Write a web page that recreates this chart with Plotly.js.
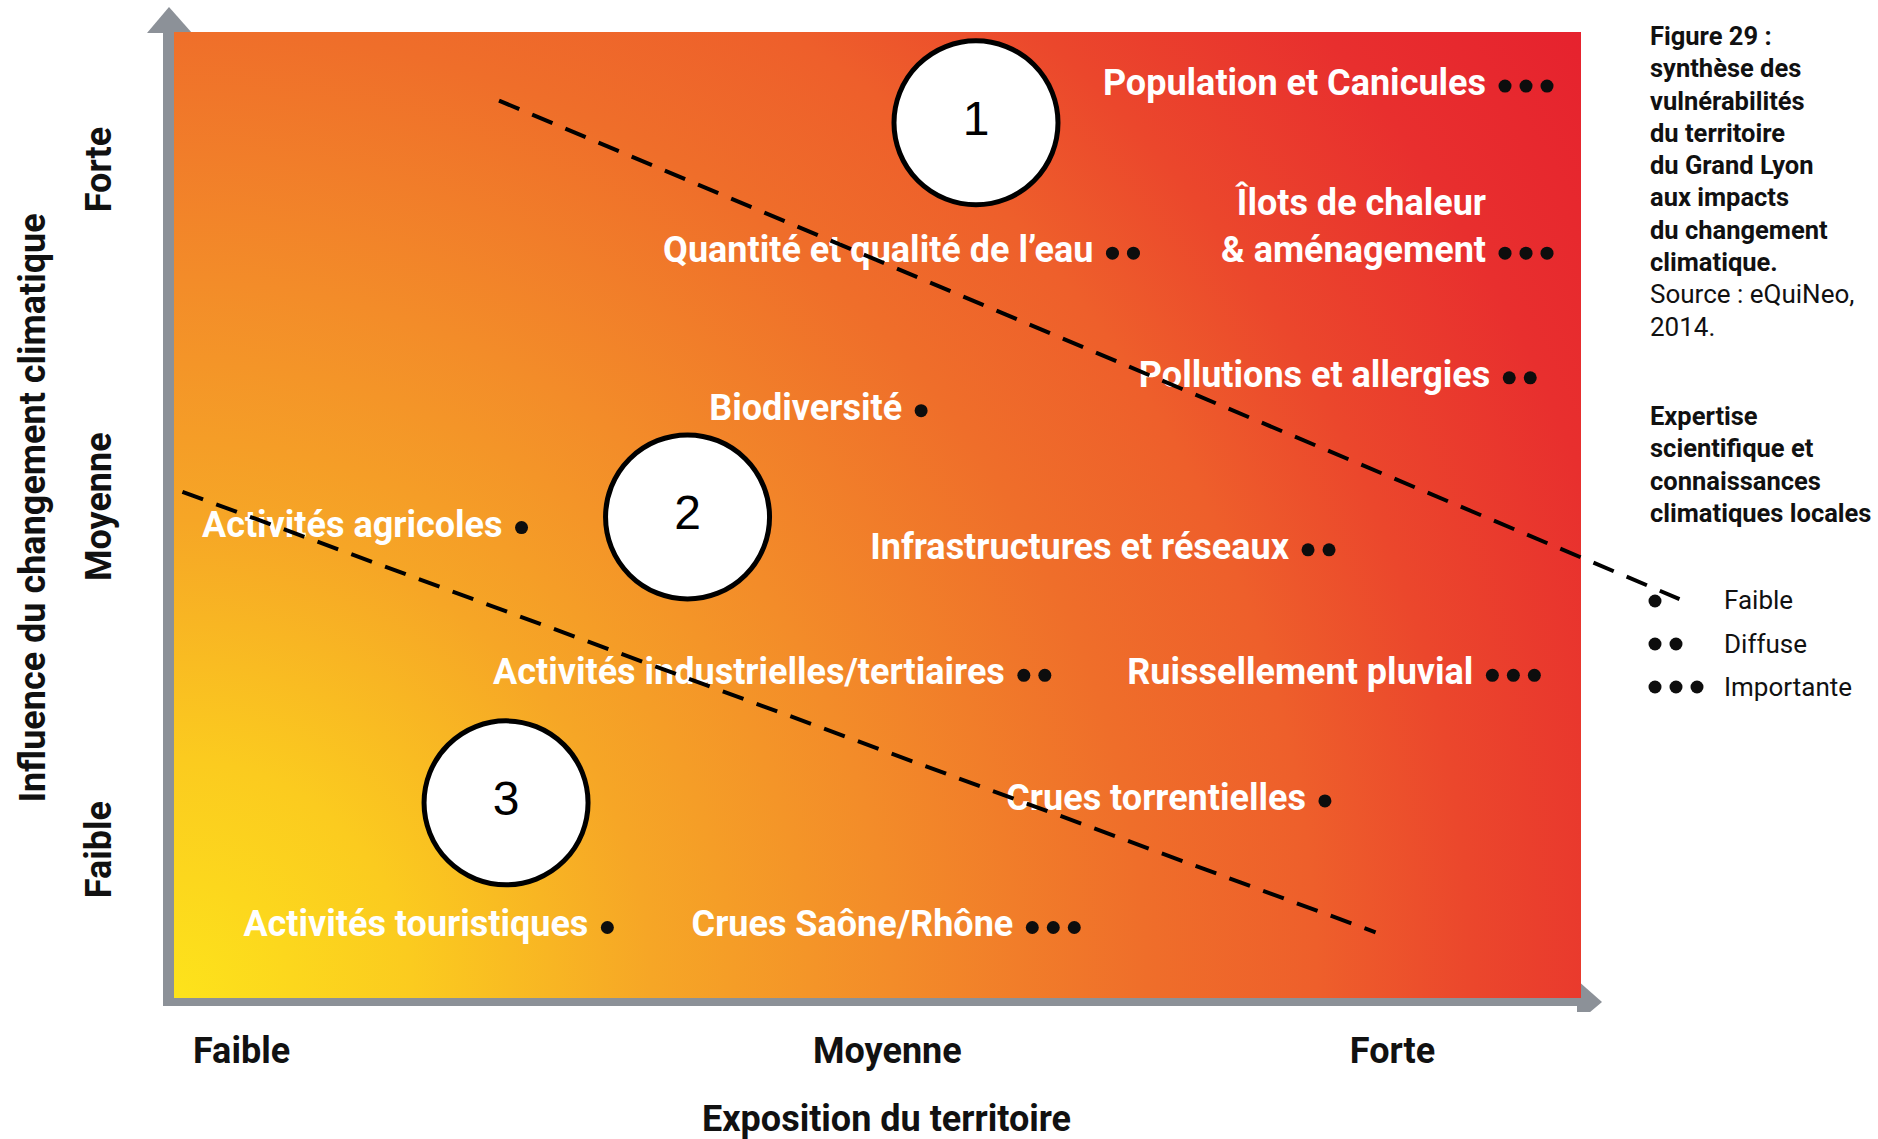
<!DOCTYPE html>
<html>
<head>
<meta charset="utf-8">
<script src="https://cdn.plot.ly/plotly-3.0.1.min.js"></script>
<style>
  html, body { margin: 0; padding: 0; background: #ffffff; }
  #chart { width: 1878px; height: 1139px; }
</style>
</head>
<body>
<div id="chart"></div>
<script>
// ---------------- DATA ----------------
const risks = [
  'Population et Canicules',
  'Îlots de chaleur<br>&amp; aménagement',
  'Quantité et qualité de l’eau',
  'Pollutions et allergies',
  'Biodiversité',
  'Activités agricoles',
  'Infrastructures et réseaux',
  'Activités industrielles/tertiaires',
  'Ruissellement pluvial',
  'Crues torrentielles',
  'Activités touristiques',
  'Crues Saône/Rhône'
];
// exposition du territoire (0 = faible ... 10 = forte)
const exposition = [9.46, 9.46, 6.67, 9.49, 5.31, 2.47, 8.06, 6.04, 9.37, 8.18, 3.08, 6.10];
// influence du changement climatique (0 = faible ... 10 = forte)
const influence  = [9.44, 7.71, 7.71, 6.42, 6.08, 4.87, 4.64, 3.34, 3.34, 2.04, 0.73, 0.73];
// expertise scientifique : 1 = faible, 2 = diffuse, 3 = importante
const expertise  = [3, 3, 2, 2, 1, 1, 2, 2, 3, 1, 1, 3];

const zoneNumbers    = ['1', '2', '3'];
const zoneExposition = [5.70, 3.65, 2.36];
const zoneInfluence  = [9.06, 4.98, 2.02];

const boundaryHighX = [2.31, 10.70];
const boundaryHighY = [9.29, 4.13];
const boundaryLowX  = [0.06, 8.54];
const boundaryLowY  = [5.24, 0.68];

const tickValsX = [0.48, 5.07, 8.66];
const tickValsY = [1.48, 5.03, 8.52];
const tickText  = ['Faible', 'Moyenne', 'Forte'];

const legendLevels = ['Faible', 'Diffuse', 'Importante'];
const legendCounts = [1, 2, 3];

const figureTitleLines = ['Figure 29 :', 'synthèse des', 'vulnérabilités', 'du territoire',
                          'du Grand Lyon', 'aux impacts', 'du changement', 'climatique.'];
const sourceLines = ['Source : eQuiNeo,', '2014.'];
const expertiseTitleLines = ['Expertise', 'scientifique et', 'connaissances', 'climatiques locales'];

// ---------------- GEOMETRY / STYLE ----------------
const W = 1878, H = 1139;
const PLOT_L = 140, PLOT_R = 1712, PLOT_T = 4, PLOT_B = 1012;
const ORIGIN_PX = 174, ORIGIN_PY = 998;   // pixel of (0,0)
const UX = 140.7, UY = 96.6;              // px per unit
const xRange = [(PLOT_L - ORIGIN_PX) / UX, (PLOT_R - ORIGIN_PX) / UX];
const yRange = [(ORIGIN_PY - PLOT_B) / UY, (ORIGIN_PY - PLOT_T) / UY];
const dxu = p => p / UX, dyu = p => p / UY;
const px2x = p => (p - ORIGIN_PX) / UX, py2y = p => (ORIGIN_PY - p) / UY;
const px2paper = p => (p - PLOT_L) / (PLOT_R - PLOT_L);
const py2paper = p => (PLOT_B - p) / (PLOT_B - PLOT_T);

const COND = 'Roboto, "Liberation Sans", sans-serif';
const SANS = '"Liberation Sans", Arial, sans-serif';
const BIG = 36;
const LABEL_GAP = 19, LABEL_RAISE = 0, DOT_STEP = 21, DOT_SIZE = 13;
const GRAY = '#8c9198';

// gradient background
const GW = 1407, GH = 966;
const stops = [[0, '#fde31b'], [0.14, '#fbcb1f'], [0.28, '#f6a626'], [0.42, '#f38c29'],
               [0.57, '#ef6e2a'], [0.67, '#ee5f2b'], [0.76, '#eb472c'], [0.88, '#e82f2e'], [1, '#e6222e']];
const svg = `<svg xmlns="http://www.w3.org/2000/svg" width="${GW}" height="${GH}" viewBox="0 0 ${GW} ${GH}" preserveAspectRatio="none">` +
  `<defs><radialGradient id="g" gradientUnits="userSpaceOnUse" cx="0" cy="${GH}" r="${Math.hypot(GW, GH)}">` +
  stops.map(s => `<stop offset="${s[0]}" stop-color="${s[1]}"/>`).join('') +
  `</radialGradient></defs><rect x="0" y="0" width="${GW}" height="${GH}" fill="url(#g)"/></svg>`;
const gradientURI = 'data:image/svg+xml;charset=utf-8,' + encodeURIComponent(svg);

// ---------------- TRACES ----------------
const labelTrace = {
  type: 'scatter', mode: 'text',
  x: exposition.map(v => v - dxu(LABEL_GAP)),
  y: influence.map((v, i) => v + dyu(LABEL_RAISE + 0.65 * BIG * (risks[i].split('<br>').length - 1))),
  text: risks, textposition: 'middle left',
  textfont: { family: COND, size: BIG, color: '#ffffff', weight: 'bold' },
  hoverinfo: 'skip', cliponaxis: false
};

const dotX = [], dotY = [];
exposition.forEach((v, i) => {
  for (let k = 0; k < expertise[i]; k++) { dotX.push(v + dxu(k * DOT_STEP)); dotY.push(influence[i]); }
});
const dotTrace = {
  type: 'scatter', mode: 'markers', x: dotX, y: dotY,
  marker: { size: DOT_SIZE, color: '#0d0d0d', line: { width: 0 } },
  hoverinfo: 'skip', cliponaxis: false
};

const legX = [], legY = [];
legendCounts.forEach((n, i) => {
  for (let k = 0; k < n; k++) { legX.push(px2x(1655) + dxu(k * DOT_STEP)); legY.push(py2y(601 + i * 43)); }
});
const legendDotTrace = {
  type: 'scatter', mode: 'markers', x: legX, y: legY,
  marker: { size: DOT_SIZE, color: '#0d0d0d', line: { width: 0 } },
  hoverinfo: 'skip', cliponaxis: false
};

const zoneTrace = {
  type: 'scatter', mode: 'markers+text',
  x: zoneExposition, y: zoneInfluence, text: zoneNumbers, textposition: 'middle center',
  marker: { size: 164, color: '#ffffff', line: { width: 5, color: '#000000' } },
  textfont: { family: SANS, size: 48, color: '#000000' },
  hoverinfo: 'skip', cliponaxis: false
};

const lineStyle = { color: '#000000', width: 4, dash: '22px,14px' };
const boundaryHigh = { type: 'scatter', mode: 'lines', x: boundaryHighX, y: boundaryHighY, line: lineStyle, hoverinfo: 'skip' };
const boundaryLow  = { type: 'scatter', mode: 'lines', x: boundaryLowX,  y: boundaryLowY,  line: lineStyle, hoverinfo: 'skip' };

// ---------------- DECOR ----------------
const shapes = [
  { type: 'rect', xref: 'x', yref: 'y', x0: px2x(163), x1: px2x(175), y0: py2y(1006), y1: py2y(32),
    fillcolor: GRAY, line: { width: 0 }, layer: 'below' },
  { type: 'path', xref: 'x', yref: 'y', layer: 'below', fillcolor: GRAY, line: { width: 0 },
    path: `M ${px2x(147)} ${py2y(33)} L ${px2x(169)} ${py2y(7)} L ${px2x(192)} ${py2y(33)} Z` },
  { type: 'rect', xref: 'x', yref: 'y', x0: px2x(163), x1: px2x(1578), y0: py2y(1006), y1: py2y(996),
    fillcolor: GRAY, line: { width: 0 }, layer: 'below' },
  { type: 'path', xref: 'x', yref: 'y', layer: 'below', fillcolor: GRAY, line: { width: 0 },
    path: `M ${px2x(1577)} ${py2y(980)} L ${px2x(1602)} ${py2y(1002)} L ${px2x(1577)} ${py2y(1023)} Z` }
];

const annotations = [];
const addLine = (text, px, py, bold, size) => annotations.push({
  xref: 'paper', yref: 'paper', x: px2paper(px), y: py2paper(py), xanchor: 'left', yanchor: 'middle',
  text: text, showarrow: false,
  font: { family: COND, size: size, color: '#111111', weight: bold ? 'bold' : 'normal' }
});
figureTitleLines.forEach((t, i) => addLine(t, 1648, 36 + i * 32.3, true, 25.5));
sourceLines.forEach((t, i) => addLine(t, 1648, 36 + (figureTitleLines.length + i) * 32.3, false, 26));
expertiseTitleLines.forEach((t, i) => addLine(t, 1648, 416 + i * 32.3, true, 25.5));
legendLevels.forEach((t, i) => addLine(t, 1722, 600 + i * 43.5, false, 26));

annotations.push({
  xref: 'paper', yref: 'paper', x: px2paper(886), y: py2paper(1119), xanchor: 'center', yanchor: 'middle',
  text: 'Exposition du territoire', showarrow: false,
  font: { family: COND, size: BIG, color: '#111111', weight: 'bold' }
});

const axisFont = { family: COND, size: BIG, color: '#111111', weight: 'bold' };
const layout = {
  width: W, height: H,
  margin: { l: PLOT_L, r: W - PLOT_R, t: PLOT_T, b: H - PLOT_B, pad: 0 },
  paper_bgcolor: '#ffffff', plot_bgcolor: '#ffffff',
  showlegend: false,
  xaxis: { range: xRange, showgrid: false, zeroline: false, showline: false, ticks: '',
           tickmode: 'array', tickvals: tickValsX, ticktext: tickText, tickfont: axisFont,
           ticklabelstandoff: 14, fixedrange: true },
  yaxis: { range: yRange, showgrid: false, zeroline: false, showline: false, ticks: '',
           tickmode: 'array', tickvals: tickValsY, ticktext: tickText, tickfont: axisFont,
           tickangle: -90, ticklabelstandoff: 21, fixedrange: true,
           title: { text: 'Influence du changement climatique', font: axisFont, standoff: 21 } },
  images: [{ source: gradientURI, xref: 'x', yref: 'y', x: 0, y: 10, sizex: 10, sizey: 10,
             xanchor: 'left', yanchor: 'top', sizing: 'stretch', layer: 'below' }],
  shapes: shapes,
  annotations: annotations
};

Plotly.newPlot('chart', [labelTrace, dotTrace, legendDotTrace, zoneTrace, boundaryHigh, boundaryLow],
               layout, { displayModeBar: false, staticPlot: true });
</script>
</body>
</html>
